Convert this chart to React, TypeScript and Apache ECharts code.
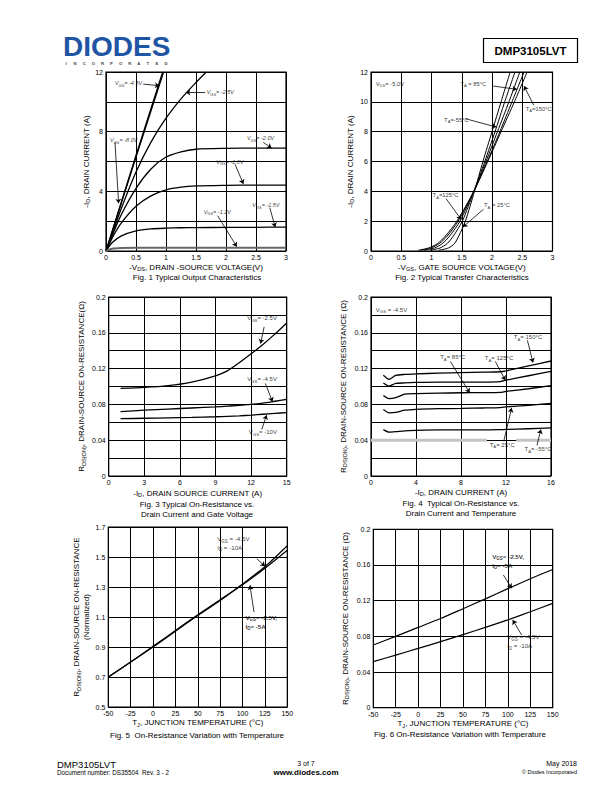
import React, { useEffect, useRef } from 'react';
import * as echarts from 'echarts';

const FONT = '"Liberation Sans", Arial, Helvetica, sans-serif';

// ---------- Fig. 1 Typical Output Characteristics ----------
const fig1Vds = [0, 0.1, 0.25, 0.5, 0.75, 1, 1.25, 1.5, 2, 2.5, 3];
const fig1IdVgs2_0 = [0, 1.0, 2.4, 4.2, 5.5, 6.3, 6.65, 6.82, 6.88, 6.9, 6.9];
const fig1IdVgs1_8 = [0, 0.85, 1.85, 3.0, 3.7, 4.1, 4.28, 4.36, 4.4, 4.42, 4.42];
const fig1IdVgs1_5 = [0, 0.55, 1.0, 1.35, 1.48, 1.53, 1.56, 1.57, 1.58, 1.59, 1.6];
const fig1IdVgs1_2 = [0, 0.15, 0.2, 0.21, 0.21, 0.21, 0.21, 0.21, 0.21, 0.21, 0.21];
const fig1VdsVgs2_5 = [0, 0.1, 0.25, 0.5, 0.75, 1, 1.25, 1.5, 1.67];
const fig1IdVgs2_5 = [0, 1.1, 2.8, 5.3, 7.3, 8.9, 10.2, 11.3, 12];
const fig1VdsVgs4_5 = [0, 0.25, 0.5, 0.75, 0.96];
const fig1IdVgs4_5 = [0, 3.15, 6.3, 9.4, 12];
const fig1VdsVgs8_0 = [0, 0.25, 0.5, 0.75, 0.945];
const fig1IdVgs8_0 = [0, 3.2, 6.4, 9.55, 12];
const fig1YLabels = [0, 4, 8, 12];

// ---------- Fig. 2 Typical Transfer Characteristics ----------
const fig2Id = [0.05, 0.2, 0.5, 1, 2, 4, 6, 8, 10, 12];
const fig2VgsT150 = [0.78, 0.95, 1.1, 1.23, 1.42, 1.7, 1.93, 2.15, 2.37, 2.58];
const fig2VgsT125 = [0.82, 0.99, 1.13, 1.26, 1.44, 1.7, 1.92, 2.13, 2.33, 2.53];
const fig2VgsT85 = [0.88, 1.05, 1.18, 1.3, 1.47, 1.7, 1.9, 2.09, 2.28, 2.46];
const fig2VgsT25 = [0.98, 1.14, 1.26, 1.36, 1.51, 1.7, 1.88, 2.05, 2.21, 2.38];
const fig2VgsTm55 = [1.12, 1.28, 1.38, 1.45, 1.56, 1.71, 1.85, 2.0, 2.15, 2.3];

// ---------- Fig. 3 On-Resistance vs Drain Current and Gate Voltage ----------
const fig3Id = [1, 3, 5, 7, 9, 10, 11, 12, 13, 14, 15];
const fig3RVgs2_5 = [0.098, 0.099, 0.101, 0.105, 0.112, 0.1175, 0.1265, 0.1365, 0.147, 0.1585, 0.171];
const fig3RVgs4_5 = [0.072, 0.0735, 0.0748, 0.076, 0.0772, 0.078, 0.0788, 0.08, 0.0815, 0.0835, 0.0855];
const fig3RVgs10 = [0.064, 0.0645, 0.065, 0.0655, 0.0662, 0.0667, 0.0672, 0.068, 0.069, 0.07, 0.0708];
const fig3YLabels = [0, 0.04, 0.08, 0.12, 0.16, 0.2];

// ---------- Fig. 4 On-Resistance vs Drain Current and Temperature ----------
const fig4Id = [1.1, 1.6, 2.2, 3, 4, 6, 8, 10, 11.5, 12, 14, 16];
const fig4RT150 = [0.1125, 0.108, 0.1125, 0.1135, 0.114, 0.115, 0.1155, 0.116, 0.1165, 0.1175, 0.123, 0.1285];
const fig4RT125 = [0.104, 0.1005, 0.1035, 0.104, 0.1045, 0.105, 0.105, 0.105, 0.1055, 0.107, 0.112, 0.117];
const fig4RT85 = [0.09, 0.0865, 0.0875, 0.0915, 0.092, 0.0925, 0.093, 0.0932, 0.0935, 0.0945, 0.0975, 0.101];
const fig4RT25 = [0.0742, 0.0705, 0.071, 0.0735, 0.0745, 0.0752, 0.0755, 0.076, 0.0765, 0.0772, 0.079, 0.081];
const fig4RTm55 = [0.0518, 0.049, 0.0495, 0.0505, 0.051, 0.0515, 0.0515, 0.0515, 0.0518, 0.052, 0.0528, 0.0537];
const fig4YLabels = [0, 0.04, 0.08, 0.12, 0.16, 0.2];
const fig4GrayLevel = 0.04;
const fig4GraySegments = [[0, 10.3], [12.9, 16]];

// ---------- Fig. 5 Normalized On-Resistance vs Temperature ----------
const fig5Tj = [-50, -25, 0, 25, 50, 75, 100, 125, 150];
const fig5RVgs4_5 = [0.7, 0.8, 0.9, 1.005, 1.11, 1.21, 1.32, 1.435, 1.575];
const fig5RVgs2_5 = [0.7, 0.8, 0.905, 1.01, 1.115, 1.215, 1.315, 1.425, 1.545];

// ---------- Fig. 6 On-Resistance vs Temperature ----------
const fig6Tj = [-50, -25, 0, 25, 50, 75, 100, 125, 150];
const fig6RVgs2_5 = [0.0703, 0.08, 0.09, 0.1, 0.111, 0.122, 0.1335, 0.1445, 0.155];
const fig6RVgs4_5 = [0.0516, 0.059, 0.0665, 0.074, 0.082, 0.09, 0.0985, 0.1075, 0.117];

// rich-text helpers
const lbl = (v: string, main: string, sub: string, rest: string) =>
  `{${v}|${main}}{${v}s|${sub}}{${v}|${rest}}`;

// annotations [x, y, text] and arrows [x1, y1, x2, y2] in data units
const fig1Notes: [number, number, string][] = [
  [0.14, 11.24, lbl('i', 'V', 'GS', '= -4.5V')],
  [1.67, 10.64, lbl('i', 'V', 'GS', '= -2.5V')],
  [2.34, 7.55, lbl('i', 'V', 'GS', '= -2.0V')],
  [1.83, 5.99, lbl('i', 'V', 'GS', '= -1.8V')],
  [2.43, 3.08, lbl('i', 'V', 'GS', '= -1.5V')],
  [1.62, 2.63, lbl('i', 'V', 'GS', '= -1.2V')],
  [0.06, 7.44, lbl('i', 'V', 'GS', '= -8.0V')],
];
const fig1Arrows = [
  [0.62, 11.19, 0.89, 11.08],
  [1.65, 10.64, 1.33, 10.62],
  [2.62, 7.28, 2.76, 6.9],
  [2.15, 5.81, 2.29, 4.5],
  [2.73, 2.9, 2.82, 1.6],
  [1.86, 2.37, 2.18, 0.29],
  [0.15, 7.28, 0.21, 3.2],
];
const fig2Notes: [number, number, string][] = [
  [0.07, 11.22, lbl('n', 'V', 'DS', '= -5.0V')],
  [1.47, 11.22, lbl('n', 'T', 'A', ' = 85°C')],
  [1.2, 8.8, lbl('n', 'T', 'A', '=-55°C')],
  [2.55, 9.54, lbl('n', 'T', 'A', '=150°C')],
  [1.01, 3.73, lbl('n', 'T', 'A', '=125°C')],
  [1.86, 3.06, lbl('n', 'T', 'A', ' = 25°C')],
];
const fig2Arrows = [
  [2.02, 11.06, 2.41, 10.84],
  [1.56, 8.87, 2.07, 8.31],
  [2.69, 9.77, 2.53, 11.06],
  [1.24, 3.51, 1.49, 2.12],
  [1.86, 2.8, 1.52, 1.61],
];
const fig3Notes: [number, number, string][] = [
  [11.63, 0.1767, lbl('n', 'V', 'GS', '= -2.5V')],
  [11.63, 0.108, lbl('n', 'V', 'GS', '= -4.5V')],
  [11.77, 0.0494, lbl('n', 'V', 'GS', '= -10V')],
];
const fig3Arrows = [
  [13.1, 0.1666, 12.8, 0.148],
  [13.2, 0.1034, 13.8, 0.083],
  [12.9, 0.052, 13.3, 0.068],
];
const fig4Notes: [number, number, string][] = [
  [0.38, 0.186, lbl('n', 'V', 'GS', ' = -4.5V')],
  [12.65, 0.155, lbl('n', 'T', 'A', '= 150°C')],
  [10.07, 0.132, lbl('n', 'T', 'A', '= 125°C')],
  [6.1, 0.133, lbl('n', 'T', 'A', '= 85°C')],
  [10.5, 0.035, lbl('n', 'T', 'A', '= 25°C')],
  [13.6, 0.03, lbl('n', 'T', 'A', '= -55°C')],
];
const fig4Arrows = [
  [13.9, 0.1516, 14.4, 0.1267],
  [11.05, 0.128, 11.94, 0.107],
  [7.05, 0.128, 8.77, 0.093],
  [11.8, 0.0388, 12.5, 0.076],
  [14.75, 0.0343, 15.1, 0.052],
];
const fig5Notes: [number, number, string][] = [
  [71.1, 1.593, lbl('n', 'V', 'GS', ' = -4.5V') + '\n' + lbl('n', 'I', 'D', ' = -10A')],
  [102.7, 1.067, lbl('b', 'V', 'GS', '= -2.5V,') + '\n' + lbl('b', 'I', 'D', '= -5A')],
];
const fig5Arrows = [
  [115.8, 1.489, 125.1, 1.438],
  [112.8, 1.133, 108.3, 1.311],
];
const fig6Notes: [number, number, string][] = [
  [82, 0.1647, lbl('b', 'V', 'GS', '= -2.5V,') + '\n' + lbl('b', 'I', 'D', '= -5A')],
  [98.7, 0.0744, lbl('n', 'V', 'GS', ' = -4.5V') + '\n' + lbl('n', 'I', 'D', ' = -10A')],
];
const fig6Arrows = [
  [95, 0.1488, 104.3, 0.1339],
  [115.4, 0.0815, 105.4, 0.0983],
];

const pairs = (xs: number[], ys: number[]) => xs.map((x, i) => [x, ys[i]]);

function curve(gi: number, xs: number[], ys: number[], color = '#000', width = 1.2, smooth: number | boolean = 0.3) {
  return {
    type: 'line', xAxisIndex: gi, yAxisIndex: gi, data: pairs(xs, ys),
    symbol: 'none', smooth, silent: true, z: 3,
    lineStyle: { color, width },
  };
}

function richSet(size: number) {
  const base = { fontFamily: FONT, color: '#000' };
  const mk = (extra: any) => ({
    main: { ...base, ...extra, fontSize: size, lineHeight: size + 2.5 },
    sub: { ...base, ...extra, fontSize: size * 0.72, lineHeight: size * 0.62, verticalAlign: 'bottom' },
  });
  const n = mk({}), b = mk({ fontWeight: 'bold' }), i = mk({ fontStyle: 'italic' });
  return { n: n.main, ns: n.sub, b: b.main, bs: b.sub, i: i.main, is: i.sub };
}

function noteSeries(gi: number, notes: [number, number, string][], size: number) {
  return {
    type: 'scatter', xAxisIndex: gi, yAxisIndex: gi, silent: true, z: 6,
    symbol: 'circle', symbolSize: 1, itemStyle: { color: 'rgba(0,0,0,0)' },
    data: notes.map((n) => ({ value: [n[0], n[1]], t: n[2] })),
    label: {
      show: true, position: 'right', distance: 0,
      formatter: (p: any) => p.data.t,
      fontFamily: FONT, fontSize: size, color: '#000', lineHeight: size + 2.5,
      rich: richSet(size),
    },
  };
}

function arrowSeries(gi: number, arrows: number[][]) {
  return {
    type: 'lines', coordinateSystem: 'cartesian2d', xAxisIndex: gi, yAxisIndex: gi,
    silent: true, z: 5, symbol: ['none', 'arrow'], symbolSize: 4.5,
    lineStyle: { color: '#000', width: 0.8, opacity: 1, curveness: 0 },
    data: arrows.map((a) => ({ coords: [[a[0], a[1]], [a[2], a[3]]] })),
  };
}

const nameStyle = {
  fontFamily: FONT, fontSize: 8, color: '#000', lineHeight: 10,
  rich: {
    s: { fontFamily: FONT, fontSize: 5.6, color: '#000', lineHeight: 5, verticalAlign: 'bottom' },
  },
};
const labelStyle = { fontFamily: FONT, fontSize: 7, color: '#000', margin: 3 };
const split = { show: true, lineStyle: { color: '#000', width: 1 } };

function xAx(gi: number, min: number, max: number, interval: number, name: string, gap: number, fmt?: (v: number) => string) {
  return {
    type: 'value', gridIndex: gi, min, max, interval, name, nameLocation: 'middle', nameGap: gap,
    nameTextStyle: nameStyle, axisLine: { show: false }, axisTick: { show: false },
    splitLine: split, axisLabel: { ...labelStyle, formatter: fmt || ((v: number) => String(v)) },
  };
}
function yAx(gi: number, min: number, max: number, interval: number, name: string, gap: number, fmt?: (v: number) => string) {
  return {
    type: 'value', gridIndex: gi, min, max, interval, name, nameLocation: 'middle', nameGap: gap,
    nameRotate: 90, nameTextStyle: nameStyle, axisLine: { show: false }, axisTick: { show: false },
    splitLine: split, axisLabel: { ...labelStyle, formatter: fmt || ((v: number) => String(v)) },
  };
}

const pick = (list: number[]) => (v: number) => {
  const r = Math.round(v * 1000) / 1000;
  return list.some((l) => Math.abs(l - r) < 1e-6) ? String(r) : '';
};

function txt(x: number, y: number, text: string, size: number, opts: any = {}) {
  return {
    type: 'text', x, y, silent: true,
    style: { text, fontFamily: FONT, fontSize: size, fill: '#000', align: 'center', verticalAlign: 'middle', ...opts },
  };
}

function buildOption() {
  const gridBase = { show: true, borderColor: '#000', borderWidth: 1.2, backgroundColor: 'transparent' };
  const grids = [
    { left: 106, top: 72, width: 180, height: 179 },
    { left: 371, top: 72, width: 181.5, height: 179 },
    { left: 108.7, top: 297, width: 178, height: 179 },
    { left: 371, top: 297, width: 180, height: 179 },
    { left: 108.3, top: 527, width: 179, height: 180 },
    { left: 373.3, top: 529.3, width: 179.4, height: 178.4 },
  ].map((g) => ({ ...gridBase, ...g }));

  const xAxis = [
    xAx(0, 0, 3, 0.5, '-V{s|DS}, DRAIN -SOURCE VOLTAGE(V)', 11.3),
    xAx(1, 0, 3, 0.5, '-V{s|GS}, GATE SOURCE VOLTAGE(V)', 11),
    xAx(2, 0, 15, 3, '-I{s|D}, DRAIN SOURCE CURRENT (A)', 12),
    xAx(3, 0, 16, 4, '-I{s|D}, DRAIN CURRENT (A)', 11),
    xAx(4, -50, 150, 25, 'T{s|J}, JUNCTION TEMPERATURE (°C)', 10.6),
    xAx(5, -50, 150, 25, 'T{s|J}, JUNCTION TEMPERATURE (°C)', 9),
  ];
  const yAxis = [
    yAx(0, 0, 12, 2, '-I{s|D}, DRAIN CURRENT (A)', 11, pick(fig1YLabels)),
    yAx(1, 0, 12, 2, '-I{s|D}, DRAIN CURRENT (A)', 16),
    yAx(2, 0, 0.2, 0.02, 'R{s|DS(ON)}, DRAIN-SOURCE ON-RESISTANCE(Ω)', 22, pick(fig3YLabels)),
    yAx(3, 0, 0.2, 0.02, 'R{s|DS(ON)}, DRAIN-SOURCE ON-RESISTANCE (Ω)', 23, pick(fig4YLabels)),
    yAx(4, 0.5, 1.7, 0.2, 'R{s|DS(ON)}, DRAIN-SOURCE ON-RESISTANCE\n(Normalized)', 14, (v: number) => v.toFixed(1)),
    yAx(5, 0, 0.2, 0.04, 'R{s|DS(ON)}, DRAIN-SOURCE ON-RESISTANCE (Ω)', 23, (v: number) => String(+v.toFixed(2))),
  ];

  const series: any[] = [
    // Fig 1
    curve(0, fig1VdsVgs8_0, fig1IdVgs8_0, '#000', 1.3, false),
    curve(0, fig1VdsVgs4_5, fig1IdVgs4_5, '#000', 1.3, false),
    curve(0, fig1VdsVgs2_5, fig1IdVgs2_5, '#000', 1.3, 0.25),
    curve(0, fig1Vds, fig1IdVgs2_0, '#000', 1.3, 0.25),
    curve(0, fig1Vds, fig1IdVgs1_8, '#000', 1.3, 0.25),
    curve(0, fig1Vds, fig1IdVgs1_5, '#000', 1.3, 0.25),
    curve(0, fig1Vds, fig1IdVgs1_2, '#666', 2, 0.25),
    arrowSeries(0, fig1Arrows),
    noteSeries(0, fig1Notes, 5.5),
    // Fig 2
    curve(1, fig2VgsT150, fig2Id, '#000', 1, 0.25),
    curve(1, fig2VgsT125, fig2Id, '#000', 1, 0.25),
    curve(1, fig2VgsT85, fig2Id, '#000', 1, 0.25),
    curve(1, fig2VgsT25, fig2Id, '#000', 1, 0.25),
    curve(1, fig2VgsTm55, fig2Id, '#000', 1, 0.25),
    arrowSeries(1, fig2Arrows),
    noteSeries(1, fig2Notes, 5.8),
    // Fig 3
    curve(2, fig3Id, fig3RVgs2_5, '#000', 1.3, 0.25),
    curve(2, fig3Id, fig3RVgs4_5, '#000', 1.3, 0.25),
    curve(2, fig3Id, fig3RVgs10, '#000', 1.3, 0.25),
    arrowSeries(2, fig3Arrows),
    noteSeries(2, fig3Notes, 6),
    // Fig 4
    ...fig4GraySegments.map((s) => ({
      type: 'line', xAxisIndex: 3, yAxisIndex: 3, silent: true, z: 2, symbol: 'none',
      data: [[s[0], fig4GrayLevel], [s[1], fig4GrayLevel]],
      lineStyle: { color: '#c4c4c4', width: 3 },
    })),
    curve(3, fig4Id, fig4RT150, '#000', 1.3, 0.2),
    curve(3, fig4Id, fig4RT125, '#000', 1.3, 0.2),
    curve(3, fig4Id, fig4RT85, '#000', 1.3, 0.2),
    curve(3, fig4Id, fig4RT25, '#000', 1.3, 0.2),
    curve(3, fig4Id, fig4RTm55, '#000', 1.3, 0.2),
    arrowSeries(3, fig4Arrows),
    noteSeries(3, fig4Notes, 6),
    // Fig 5
    curve(4, fig5Tj, fig5RVgs4_5, '#000', 1.2, 0.2),
    curve(4, fig5Tj, fig5RVgs2_5, '#000', 1.2, 0.2),
    arrowSeries(4, fig5Arrows),
    noteSeries(4, fig5Notes, 6.2),
    // Fig 6
    curve(5, fig6Tj, fig6RVgs2_5, '#000', 1.2, 0.2),
    curve(5, fig6Tj, fig6RVgs4_5, '#000', 1.2, 0.2),
    arrowSeries(5, fig6Arrows),
    noteSeries(5, fig6Notes, 6.2),
  ];

  const incorporated = 'INCORPORATED'.split('').map((ch, i) =>
    txt(66 + i * 9.1, 63, ch, 4.2, { fill: '#444', fontWeight: 'bold', lineHeight: 4.2 }));

  const graphic: any[] = [
    txt(63, 46, 'DIODES', 28, { align: 'left', fill: '#1f55a5', fontWeight: 'bold', lineHeight: 22 }),
    ...incorporated,
    { type: 'rect', silent: true, shape: { x: 483.5, y: 38.5, width: 94, height: 24 }, style: { fill: 'none', stroke: '#000', lineWidth: 1.2 } },
    txt(530.5, 50.5, 'DMP3105LVT', 11.5, { fontWeight: 'bold' }),
    // captions
    txt(197, 277.5, 'Fig. 1 Typical Output Characteristics', 8),
    txt(462, 277, 'Fig. 2 Typical Transfer Characteristics', 8),
    txt(197, 504, 'Fig. 3 Typical On-Resistance vs.', 8),
    txt(197, 514, 'Drain Current and Gate Voltage', 8),
    txt(461, 503.5, 'Fig. 4  Typical On-Resistance vs.', 8),
    txt(461, 513.5, 'Drain Current and Temperature', 8),
    txt(197, 735, 'Fig. 5  On-Resistance Variation with Temperature', 8),
    txt(460, 734, 'Fig. 6 On-Resistance Variation with Temperature', 8),
    // footer
    txt(57, 764, 'DMP3105LVT', 9.5, { align: 'left' }),
    txt(57, 772.5, 'Document number: DS35504  Rev. 3 - 2', 6.3, { align: 'left' }),
    txt(306, 763.5, '3 of 7', 7),
    txt(306, 772, 'www.diodes.com', 8, { fontWeight: 'bold' }),
    txt(577, 763.5, 'May 2018', 7, { align: 'right' }),
    txt(577, 772, '© Diodes Incorporated', 5.5, { align: 'right' }),
  ];

  return {
    animation: false,
    backgroundColor: '#fff',
    textStyle: { fontFamily: FONT },
    grid: grids,
    xAxis,
    yAxis,
    series,
    graphic,
  };
}

export default function App() {
  const ref = useRef<HTMLDivElement>(null);
  useEffect(() => {
    if (!ref.current) return;
    const chart = echarts.init(ref.current, null, { renderer: 'svg', width: 612, height: 792 });
    chart.setOption(buildOption() as any);
    return () => chart.dispose();
  }, []);
  return (
    <div
      ref={ref}
      style={{ position: 'absolute', left: 0, top: 0, width: 612, height: 792, background: '#fff' }}
    />
  );
}
